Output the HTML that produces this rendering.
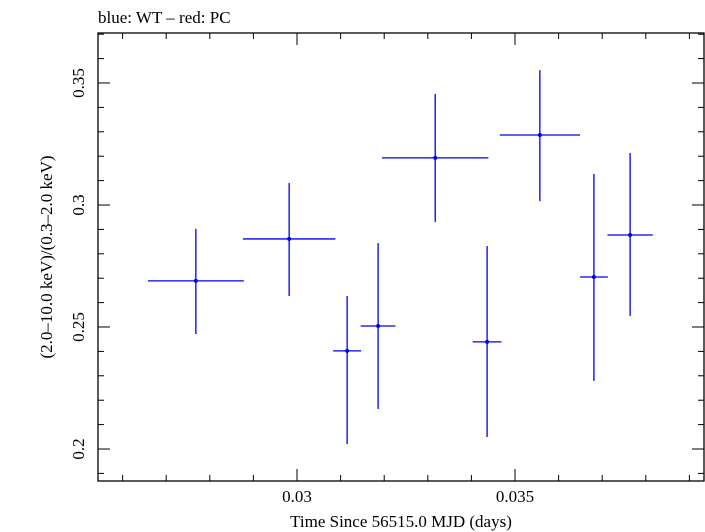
<!DOCTYPE html>
<html><head><meta charset="utf-8"><style>
html,body{margin:0;padding:0;background:#fff;}
svg{display:block;font-family:"Liberation Serif",serif;}
</style></head><body>
<svg id="chart" width="705" height="532" xmlns="http://www.w3.org/2000/svg">
<text x="98" y="23" font-size="17">blue: WT – red: PC</text>
<g id="axes"></g>
<g id="marks"></g>
<text x="401" y="527" font-size="17" text-anchor="middle">Time Since 56515.0 MJD (days)</text>
<text transform="translate(52,257) rotate(-90)" font-size="17" text-anchor="middle">(2.0–10.0 keV)/(0.3–2.0 keV)</text>
</svg>
<script>
const times=[0.02768,0.02982,0.03115,0.03186,0.03317,0.03436,0.03557,0.03681,0.03764];
const timeHalfWidths=[0.0011,0.00106,0.00032,0.0004,0.00122,0.00033,0.00092,0.00032,0.00052];
const ratios=[0.2689,0.2861,0.2402,0.2504,0.3193,0.2439,0.3287,0.2705,0.2877];
const ratioHigh=[0.2902,0.3090,0.2627,0.2844,0.3455,0.2832,0.3553,0.3127,0.3213];
const ratioLow=[0.2471,0.2627,0.2020,0.2164,0.2930,0.2049,0.3016,0.2279,0.2545];
const xTickLabels=["0.03","0.035"];
const xTickValues=[0.03,0.035];
const yTickLabels=["0.2","0.25","0.3","0.35"];
const yTickValues=[0.2,0.25,0.3,0.35];

const L=98,R=704,T=33,B=481;
const xs=v=>297+(v-0.03)*43600;
const ys=v=>449-(v-0.2)*2440;
const NS="http://www.w3.org/2000/svg";
const axes=document.getElementById('axes'),marks=document.getElementById('marks');
function mk(tag,attrs,parent){const e=document.createElementNS(NS,tag);for(const k in attrs)e.setAttribute(k,attrs[k]);parent.appendChild(e);return e;}
const frame=mk('rect',{x:L,y:T,width:R-L,height:B-T,fill:'none',stroke:'#000','stroke-width':1.3},axes);


// x ticks
for(let i=-4;i<=9;i++){const v=0.03+i*0.001;const x=xs(v);if(x<L||x>R)continue;
 const major=Math.abs((v*1000)%5)<1e-6||Math.abs((v*1000)%5-5)<1e-6;const len=major?12:6;
 const t1=mk('line',{x1:x,x2:x,y1:B,y2:B-len,stroke:'#000','stroke-width':1},axes);
 
 const t2=mk('line',{x1:x,x2:x,y1:T,y2:T+len,stroke:'#000','stroke-width':1},axes);
 }
xTickValues.forEach((v,i)=>{const t=mk('text',{x:xs(v),y:502,'font-size':17,'text-anchor':'middle'},axes);t.textContent=xTickLabels[i];
 });
// y ticks
for(let i=-1;i<=18;i++){const v=0.19+i*0.01;const y=ys(v);if(y<T||y>B)continue;
 const major=Math.abs(Math.round(v*100)%5)===0;const len=major?12:6;
 const t1=mk('line',{x1:L,x2:L+len,y1:y,y2:y,stroke:'#000','stroke-width':1},axes);
 
 const t2=mk('line',{x1:R,x2:R-len,y1:y,y2:y,stroke:'#000','stroke-width':1},axes);
 }
yTickValues.forEach((v,i)=>{const y=ys(v);const t=mk('text',{transform:`translate(84,${y}) rotate(-90)`,'font-size':17,'text-anchor':'middle'},axes);t.textContent=yTickLabels[i];
 });
// data
times.forEach((t,i)=>{const g=mk('g',{},marks);
 
 
 mk('line',{x1:xs(t-timeHalfWidths[i]),x2:xs(t+timeHalfWidths[i]),y1:ys(ratios[i]),y2:ys(ratios[i]),stroke:'#0000ee','stroke-width':1.3},g);
 mk('line',{x1:xs(t),x2:xs(t),y1:ys(ratioLow[i]),y2:ys(ratioHigh[i]),stroke:'#0000ee','stroke-width':1.3},g);
 mk('circle',{cx:xs(t),cy:ys(ratios[i]),r:2,fill:'#0000ee'},g);});
</script>
</body></html>
